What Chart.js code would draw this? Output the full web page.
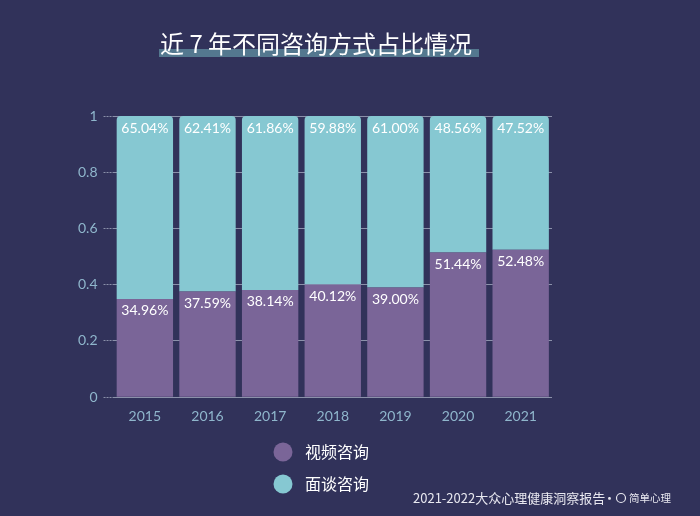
<!DOCTYPE html>
<html>
<head>
<meta charset="utf-8">
<script src="https://cdn.jsdelivr.net/npm/chart.js@4"></script>
<style>
  html, body { margin: 0; padding: 0; background: #31325a; }
  #wrap { width: 700px; height: 516px; position: relative; }
</style>
</head>
<body>
<div id="wrap"><canvas id="consultChart" width="700" height="516"></canvas></div>
<script>
const years = ['2015', '2016', '2017', '2018', '2019', '2020', '2021'];
const videoShare = [34.96, 37.59, 38.14, 40.12, 39.00, 51.44, 52.48];
const faceShare = [65.04, 62.41, 61.86, 59.88, 61.00, 48.56, 47.52];
const seriesNames = ['视频咨询', '面谈咨询'];
const yTicks = [0, 0.2, 0.4, 0.6, 0.8, 1];

const purple = '#7a6598';
const cyan = '#86c8d2';
const tickColor = '#8fb6cc';
const cjkFont = '"Noto Sans CJK SC", "Noto Sans", sans-serif';

// title with the highlight stroke under it, legend and footer
const decorations = {
  id: 'decorations',
  afterDraw(chart) {
    const ctx = chart.ctx;
    ctx.save();
    // title
    ctx.fillStyle = 'rgba(100, 150, 165, 0.7)';
    ctx.fillRect(159, 49, 320, 8);
    ctx.fillStyle = '#ffffff';
    ctx.font = '24px ' + cjkFont;
    ctx.textBaseline = 'middle';
    ctx.textAlign = 'left';
    ctx.fillText('近 7 年不同咨询方式占比情况', 160, 44);

    // legend
    const colors = [purple, cyan];
    seriesNames.forEach((name, i) => {
      const y = 452 + i * 32;
      ctx.fillStyle = colors[i];
      ctx.beginPath();
      ctx.arc(283, y, 9.5, 0, Math.PI * 2);
      ctx.fill();
      ctx.fillStyle = '#ffffff';
      ctx.font = '16px ' + cjkFont;
      ctx.fillText(name, 305, y);
    });

    // footer
    ctx.fillStyle = '#e8e8f0';
    ctx.textAlign = 'left';
    ctx.font = '13px ' + cjkFont;
    ctx.fillText('2021-2022大众心理健康洞察报告', 413, 498);
    ctx.fillText('·', 603, 498);
    ctx.font = '10.5px ' + cjkFont;
    ctx.fillText('简单心理', 629, 498);
    ctx.strokeStyle = '#e8e8f0';
    ctx.lineWidth = 1.2;
    ctx.beginPath();
    ctx.arc(621, 498, 4.5, 0, Math.PI * 2);
    ctx.stroke();
    ctx.restore();
  }
};

// percentage labels inside the bars
const barLabels = {
  id: 'barLabels',
  afterDatasetsDraw(chart) {
    const ctx = chart.ctx;
    ctx.save();
    ctx.fillStyle = '#ffffff';
    ctx.font = '14px Lato, sans-serif';
    ctx.textAlign = 'center';
    ctx.textBaseline = 'middle';
    chart.data.datasets.forEach((ds, di) => {
      chart.getDatasetMeta(di).data.forEach((bar, i) => {
        ctx.fillText(ds.data[i].toFixed(2) + '%', bar.x, bar.y + 12);
      });
    });
    ctx.restore();
  }
};

const ctx = document.getElementById('consultChart').getContext('2d');
// eslint-disable-next-line no-unused-vars
const consultChart = new Chart(ctx, {
  type: 'bar',
  data: {
    labels: years,
    datasets: [
      {
        label: seriesNames[0],
        data: videoShare,
        backgroundColor: purple,
        borderRadius: 0,
        barPercentage: 0.9,
        categoryPercentage: 1
      },
      {
        label: seriesNames[1],
        data: faceShare,
        backgroundColor: cyan,
        borderRadius: { topLeft: 4, topRight: 4 },
        borderSkipped: false,
        barPercentage: 0.9,
        categoryPercentage: 1
      }
    ]
  },
  options: {
    responsive: false,
    animation: false,
    layout: {
      padding: { top: 116, left: 72, right: 148, bottom: 88 }
    },
    plugins: {
      legend: { display: false },
      tooltip: { enabled: false }
    },
    scales: {
      x: {
        stacked: true,
        grid: { display: false },
        border: { display: false },
        ticks: { color: tickColor, font: { family: 'Lato', size: 14 }, padding: 3 }
      },
      y: {
        stacked: true,
        min: 0,
        max: 100,
        z: 1,
        afterBuildTicks(scale) {
          scale.ticks = yTicks.map(v => ({ value: v * 100 }));
        },
        border: { display: false },
        grid: {
          color: 'rgba(230, 240, 250, 0.5)',
          lineWidth: 1,
          tickLength: 10,
          tickBorderDash: [2, 1]
        },
        ticks: {
          color: tickColor,
          font: { family: 'Lato', size: 14 },
          padding: 6,
          callback: v => String(Math.round(v) / 100)
        }
      }
    }
  },
  plugins: [barLabels, decorations]
});
</script>
</body>
</html>
